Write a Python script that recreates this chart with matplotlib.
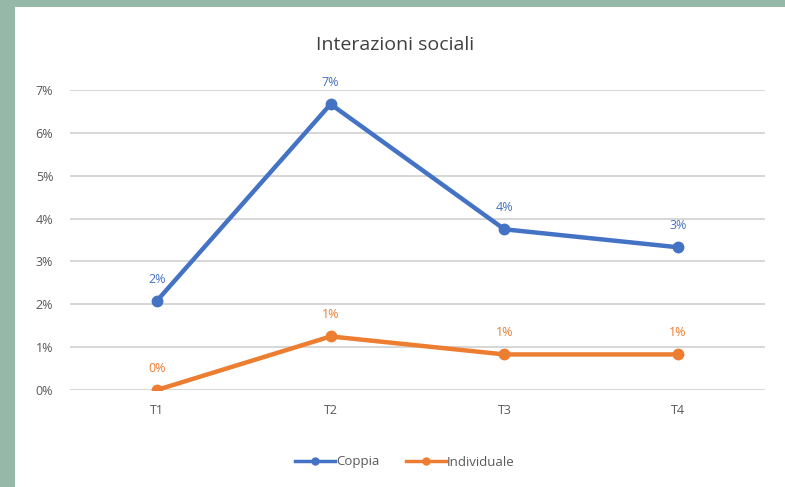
import matplotlib.pyplot as plt
from matplotlib.patches import Rectangle
from matplotlib.lines import Line2D
from matplotlib.ticker import PercentFormatter

plt.rcParams['font.family'] = ['Open Sans', 'DejaVu Sans']

categories = ["T1", "T2", "T3", "T4"]
coppia = [2.08, 6.67, 3.75, 3.33]
individuale = [0.0, 1.25, 0.83, 0.83]
coppia_labels = ["2%", "7%", "4%", "3%"]
individuale_labels = ["0%", "1%", "1%", "1%"]

blue = "#4472C4"
orange = "#ED7D31"

W, H = 785, 487
fig = plt.figure(figsize=(W / 100, H / 100), dpi=100)
fig.patch.set_facecolor("#96B8A8")
# white card inside the green frame
fig.patches.append(Rectangle((15 / W, 0), 1 - 15 / W, 1 - 7 / H,
                             transform=fig.transFigure, facecolor="white",
                             edgecolor="none", zorder=-5))

ax = fig.add_axes([70 / W, 1 - 390 / H, (765 - 70) / W, 300 / H])
ax.set_zorder(2)
ax.set_facecolor("none")

x = [i + 0.5 for i in range(len(categories))]
ax.plot(x, coppia, color=blue, lw=3.2, marker="o", ms=7.5,
        solid_capstyle="round", zorder=3)
ax.plot(x, individuale, color=orange, lw=3.2, marker="o", ms=7.5,
        solid_capstyle="round", zorder=3)

for xi, v, t in zip(x, coppia, coppia_labels):
    ax.annotate(t, (xi, v), xytext=(0, 11), textcoords="offset points",
                ha="center", va="bottom", color=blue, fontsize=9)
for xi, v, t in zip(x, individuale, individuale_labels):
    ax.annotate(t, (xi, v), xytext=(0, 11), textcoords="offset points",
                ha="center", va="bottom", color=orange, fontsize=9)

ax.set_xlim(0, 4)
ax.set_ylim(0, 7)
ax.set_yticks(range(0, 8))
ax.yaxis.set_major_formatter(PercentFormatter(decimals=0))
ax.set_xticks(x)
ax.set_xticklabels(categories)
ax.grid(axis="y", color="#D0D0D0", lw=1.2)
ax.set_axisbelow(True)
for s in ax.spines.values():
    s.set_visible(False)
ax.tick_params(length=0, colors="#595959", labelsize=9)
ax.tick_params(axis="y", pad=12)
ax.tick_params(axis="x", pad=10)

fig.text(395 / W, 1 - 45 / H, "Interazioni sociali", ha="center", va="center",
         fontsize=14, color="#404040")

handles = [Line2D([], [], color=blue, lw=2.5, marker="o", ms=5),
           Line2D([], [], color=orange, lw=2.5, marker="o", ms=5)]
fig.legend(handles, ["Coppia", "Individuale"], loc="center",
           bbox_to_anchor=(405 / W, 1 - 462 / H), ncol=2,
           frameon=False, fontsize=9.5, labelcolor="#595959",
           handlelength=3, handletextpad=0.1, columnspacing=2.0)

fig.savefig("out.png", dpi=100, facecolor=fig.get_facecolor())
